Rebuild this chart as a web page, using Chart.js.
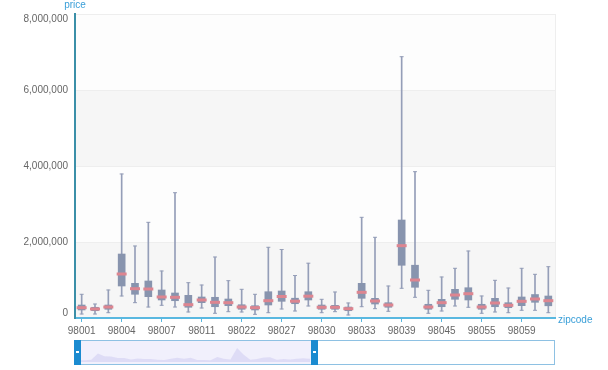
<!DOCTYPE html>
<html>
<head>
<meta charset="utf-8">
<script src="https://cdn.jsdelivr.net/npm/chart.js@4.4.1/dist/chart.umd.min.js"></script>
<style>
  html, body { margin: 0; padding: 0; background: #fff; }
  #wrap { width: 608px; height: 370px; }
</style>
</head>
<body>
<div id="wrap"><canvas id="myChart" width="608" height="370"></canvas></div>
<script>
// zipcodes shown in the zoomed window (first half of the data)
const zipcodes = ['98001','98002','98003','98004','98005','98006','98007','98008','98010','98011',
                  '98014','98019','98022','98023','98024','98027','98028','98029','98030','98031',
                  '98032','98033','98034','98038','98039','98040','98042','98045','98052','98053',
                  '98055','98056','98058','98059','98065','98070'];

// box plot values (price)
const minVals = [105000,105000,139000,579000,403000,289000,334000,289000,158000,263000,
                 124000,166000,158000,97000,139000,237000,184000,316000,139000,166000,
                 79000,297000,245000,176000,782000,545000,124000,184000,316000,282000,
                 124000,158000,139000,203000,203000,139000];
const q1Vals  = [211000,192000,229000,842000,624000,561000,474000,455000,282000,403000,
                 297000,324000,229000,211000,342000,439000,376000,474000,229000,229000,
                 192000,518000,368000,282000,1387000,808000,229000,297000,492000,474000,
                 229000,297000,271000,324000,413000,321000];
const medVals = [271000,237000,289000,1158000,771000,763000,553000,545000,350000,474000,
                 413000,403000,289000,271000,455000,566000,442000,574000,282000,282000,
                 245000,676000,447000,342000,1903000,1000000,289000,403000,605000,639000,
                 289000,395000,334000,439000,500000,455000];
const q3Vals  = [342000,282000,342000,1684000,913000,974000,737000,658000,597000,553000,
                 545000,500000,350000,324000,692000,711000,521000,692000,342000,334000,
                 289000,913000,518000,403000,2579000,1389000,361000,492000,755000,797000,
                 361000,518000,403000,553000,618000,579000];
const maxVals = [624000,368000,737000,3790000,1895000,2518000,1237000,3297000,929000,868000,
                 1605000,982000,755000,624000,1861000,1803000,1118000,1442000,492000,684000,
                 395000,2650000,2124000,842000,6876000,3850000,729000,1079000,1308000,1763000,
                 579000,992000,789000,1308000,1150000,1350000];

const yTicks = [0, 2000000, 4000000, 6000000, 8000000];
const zoomEnd = 50; // percent of all zipcodes shown in the slider

const axisBlue = '#3a9fd8';
const labelFont = '10px "Liberation Sans", Arial, sans-serif';

// alternating bands behind the grid
const bandsPlugin = {
    id: 'bands',
    beforeDraw(chart) {
        const ctx = chart.ctx, area = chart.chartArea, y = chart.scales.y;
        ctx.save();
        for (let i = 0; i < yTicks.length - 1; i++) {
            const top = y.getPixelForValue(yTicks[i + 1]);
            const bottom = y.getPixelForValue(yTicks[i]);
            ctx.fillStyle = i % 2 === 0 ? '#f6f6f6' : '#fdfdfd';
            ctx.fillRect(area.left, top, area.right - area.left, bottom - top);
        }
        ctx.strokeStyle = '#eeeeee';
        ctx.lineWidth = 1;
        ctx.beginPath();
        ctx.moveTo(area.right + 0.5, area.top);
        ctx.lineTo(area.right + 0.5, area.bottom);
        ctx.stroke();
        ctx.restore();
    }
};

// y labels, axis names and the data zoom slider under the chart
const extrasPlugin = {
    id: 'extras',
    afterDraw(chart) {
        const ctx = chart.ctx, area = chart.chartArea, y = chart.scales.y;
        ctx.save();
        ctx.font = labelFont;
        ctx.textBaseline = 'middle';

        // y tick labels, the end ones pulled inside like the original
        ctx.fillStyle = '#666';
        ctx.textAlign = 'right';
        yTicks.forEach((v, i) => {
            let py = y.getPixelForValue(v);
            if (i === 0) py -= 5;
            if (i === yTicks.length - 1) py += 5;
            ctx.fillText(v.toLocaleString('en-US'), area.left - 7, py);
        });

        ctx.fillStyle = axisBlue;
        ctx.textAlign = 'center';
        ctx.fillText('price', area.left, 5);
        ctx.textAlign = 'left';
        ctx.fillText('zipcode', area.right + 3, area.bottom + 2);

        // slider
        const sx0 = area.left - 1, sx1 = area.right - 1;
        const sy0 = chart.height - 30, sy1 = chart.height - 6;
        const handleX = sx0 + (sx1 - sx0) * zoomEnd / 100;

        ctx.fillStyle = 'rgba(178,170,238,0.18)';
        ctx.fillRect(sx0, sy0, handleX - sx0, sy1 - sy0);

        // data shadow of the medians in the selected part
        const maxMed = Math.max(...medVals);
        ctx.beginPath();
        ctx.moveTo(sx0 + 4, sy1 - 2);
        medVals.forEach((v, i) => {
            const px = sx0 + 4 + (handleX - sx0 - 8) * i / (medVals.length - 1);
            ctx.lineTo(px, sy1 - 2 - 14 * v / maxMed);
        });
        ctx.lineTo(handleX - 4, sy1 - 2);
        ctx.closePath();
        ctx.fillStyle = 'rgba(190,184,236,0.35)';
        ctx.fill();

        ctx.strokeStyle = '#8ec1e3';
        ctx.lineWidth = 1;
        ctx.strokeRect(sx0 + 0.5, sy0 + 0.5, sx1 - sx0, sy1 - sy0);

        [sx0 + 3.5, handleX].forEach(hx => {
            ctx.fillStyle = '#1b8bd0';
            ctx.fillRect(Math.round(hx - 3.5), sy0, 7, sy1 - sy0 + 1);
            ctx.fillStyle = '#ffffff';
            ctx.fillRect(Math.round(hx - 1.5), sy0 + 11, 3, 2);
        });
        ctx.restore();
    }
};

const ctx = document.getElementById('myChart');

new Chart(ctx, {
    data: {
        labels: zipcodes,
        datasets: [
            {   // whiskers
                type: 'bar',
                data: zipcodes.map((z, i) => [minVals[i], maxVals[i]]),
                backgroundColor: '#959eb8',
                barThickness: 1,
                grouped: false,
                order: 4
            },
            {   // boxes
                type: 'bar',
                data: zipcodes.map((z, i) => [q1Vals[i], q3Vals[i]]),
                backgroundColor: '#8894ae',
                barThickness: 7,
                grouped: false,
                order: 3
            },
            {   // caps
                type: 'line',
                data: minVals,
                showLine: false,
                pointStyle: 'line',
                pointRadius: 2,
                borderWidth: 1,
                borderColor: '#959eb8',
                order: 2
            },
            {
                type: 'line',
                data: maxVals,
                showLine: false,
                pointStyle: 'line',
                pointRadius: 2,
                borderWidth: 1,
                borderColor: '#959eb8',
                order: 2
            },
            {   // medians
                type: 'line',
                data: medVals,
                showLine: false,
                pointStyle: 'line',
                pointRadius: 5,
                borderWidth: 3,
                borderColor: '#dd8590',
                order: 1
            }
        ]
    },
    options: {
        responsive: false,
        animation: false,
        events: [],
        layout: { padding: { left: 0, right: 53, top: 14, bottom: 32 } },
        plugins: {
            legend: { display: false },
            tooltip: { enabled: false }
        },
        scales: {
            x: {
                offset: true,
                afterFit(scale) { scale.height = 20; },
                border: { display: true, color: '#5ab8e0', width: 2 },
                grid: {
                    offset: false,
                    drawOnChartArea: false,
                    tickLength: 4,
                    color: (c) => c.index % 3 === 0 ? '#5ab8e0' : 'rgba(0,0,0,0)'
                },
                ticks: {
                    autoSkip: false,
                    maxRotation: 0,
                    padding: 3,
                    color: '#666',
                    font: { size: 10, family: '"Liberation Sans", Arial, sans-serif' },
                    callback: (v, i) => i % 3 === 0 ? zipcodes[i] : ''
                }
            },
            y: {
                min: 0,
                max: 8000000,
                afterFit(scale) { scale.width = 75; },
                afterBuildTicks(scale) { scale.ticks = yTicks.map(v => ({ value: v })); },
                border: { display: true, color: '#3b8fa8', width: 2 },
                grid: { color: '#eeeeee', drawTicks: false },
                ticks: { display: false }
            }
        }
    },
    plugins: [bandsPlugin, extrasPlugin]
});
</script>
</body>
</html>
